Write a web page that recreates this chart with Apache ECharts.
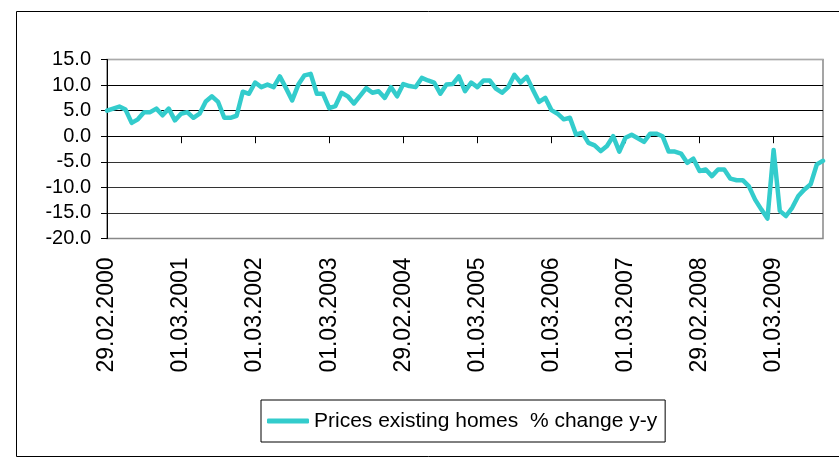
<!DOCTYPE html>
<html>
<head>
<meta charset="utf-8">
<script src="https://cdn.jsdelivr.net/npm/echarts@6/dist/echarts.min.js"></script>
<style>
  html, body { margin: 0; padding: 0; background: #fff; }
  #container { width: 839px; height: 460px; }
</style>
</head>
<body>
<div id="container"></div>
<script>
// tick labels shown under the axis, one per year
const tickLabels = ['29.02.2000', '01.03.2001', '01.03.2002', '01.03.2003', '29.02.2004',
  '01.03.2005', '01.03.2006', '01.03.2007', '29.02.2008', '01.03.2009'];

// monthly values, Feb 2000 .. Oct 2009
const priceChange = [
  5.0, 5.4, 5.8, 5.2, 2.6, 3.3, 4.7, 4.7, 5.4, 4.1, 5.4, 3.1,
  4.4, 4.7, 3.6, 4.4, 6.8, 7.8, 6.7, 3.6, 3.6, 4.0, 8.7, 8.3,
  10.5, 9.6, 10.1, 9.6, 11.7, 9.4, 7.0, 10.1, 11.9, 12.2, 8.3, 8.3,
  5.5, 5.9, 8.5, 7.8, 6.4, 7.9, 9.4, 8.5, 8.8, 7.5, 9.6, 7.8,
  10.2, 9.8, 9.6, 11.4, 10.9, 10.5, 8.3, 10.1, 10.2, 11.7, 8.8, 10.5,
  9.6, 10.9, 10.9, 9.3, 8.5, 9.6, 12.0, 10.5, 11.6, 9.1, 6.7, 7.5,
  5.1, 4.4, 3.3, 3.6, 0.3, 0.7, -1.3, -1.8, -2.9, -1.9, 0.0, -3.0,
  -0.3, 0.3, -0.4, -1.1, 0.5, 0.5, 0.0, -3.0, -3.0, -3.4, -5.2, -4.4,
  -6.8, -6.5, -7.8, -6.5, -6.5, -8.3, -8.6, -8.6, -9.8, -12.4, -14.3, -16.1,
  -2.7, -14.6, -15.6, -14.0, -11.7, -10.4, -9.4, -5.5, -4.8
];

// one category per month, the yearly ones carry the printed label
const categories = priceChange.map(function (v, i) {
  if (i % 12 === 0) return tickLabels[i / 12];
  const m = (i + 1) % 12 + 1;
  const y = 2000 + Math.floor((i + 1) / 12);
  return (m < 10 ? '0' + m : '' + m) + '.' + y;
});

const seriesName = 'Prices existing homes  % change y-y';
const font = "'Liberation Sans', Arial, sans-serif";

let myChart = echarts.init(document.getElementById('container'));
let option = {
  animation: false,
  graphic: [{
    type: 'rect',
    shape: { x: 16.5, y: 11.5, width: 900, height: 445 },
    style: { fill: 'none', stroke: '#000', lineWidth: 1 },
    silent: true,
    z: -1
  }],
  grid: {
    left: 107, right: 16, top: 59.5, bottom: 221.5,
    show: true, borderColor: '#888', borderWidth: 1.5
  },
  legend: {
    data: [seriesName],
    left: 261, top: 400,
    orient: 'horizontal',
    borderColor: '#000', borderWidth: 1,
    padding: [7, 8, 7, 6],
    itemWidth: 42, itemHeight: 5,
    icon: 'roundRect',
    textStyle: { color: '#000', fontSize: 21, fontFamily: font, lineHeight: 28 }
  },
  xAxis: [{
    type: 'category',
    data: categories,
    boundaryGap: false,
    axisLine: { onZero: true, lineStyle: { color: '#000', width: 1 } },
    axisTick: { show: true, interval: 11, length: 7, lineStyle: { color: '#000' } },
    axisLabel: { show: false },
    splitLine: { show: false }
  }, {
    type: 'category',
    data: categories,
    boundaryGap: false,
    position: 'bottom',
    axisLine: { show: false, onZero: false },
    axisTick: { show: false },
    axisLabel: {
      interval: 11, rotate: 90, margin: 19,
      color: '#000', fontSize: 23, fontFamily: font
    },
    splitLine: { show: false }
  }],
  yAxis: {
    type: 'value',
    min: -20, max: 15, interval: 5,
    axisLine: { show: true, lineStyle: { color: '#000', width: 1 } },
    axisTick: { show: true, length: 6, lineStyle: { color: '#000' } },
    axisLabel: {
      margin: 16, color: '#000', fontSize: 20, fontFamily: font,
      formatter: function (v) { return v.toFixed(1); }
    },
    splitLine: {
      show: true,
      lineStyle: { color: ['#888', '#333', '#333', '#333', '#000', '#000', '#000', '#aaa'], width: 1 }
    }
  },
  series: [{
    name: seriesName,
    type: 'line',
    xAxisIndex: 0,
    data: priceChange,
    showSymbol: false,
    symbol: 'none',
    lineStyle: { color: '#33cccc', width: 4.5, cap: 'round', join: 'round' },
    itemStyle: { color: '#33cccc' }
  }]
};
myChart.setOption(option);
</script>
</body>
</html>
